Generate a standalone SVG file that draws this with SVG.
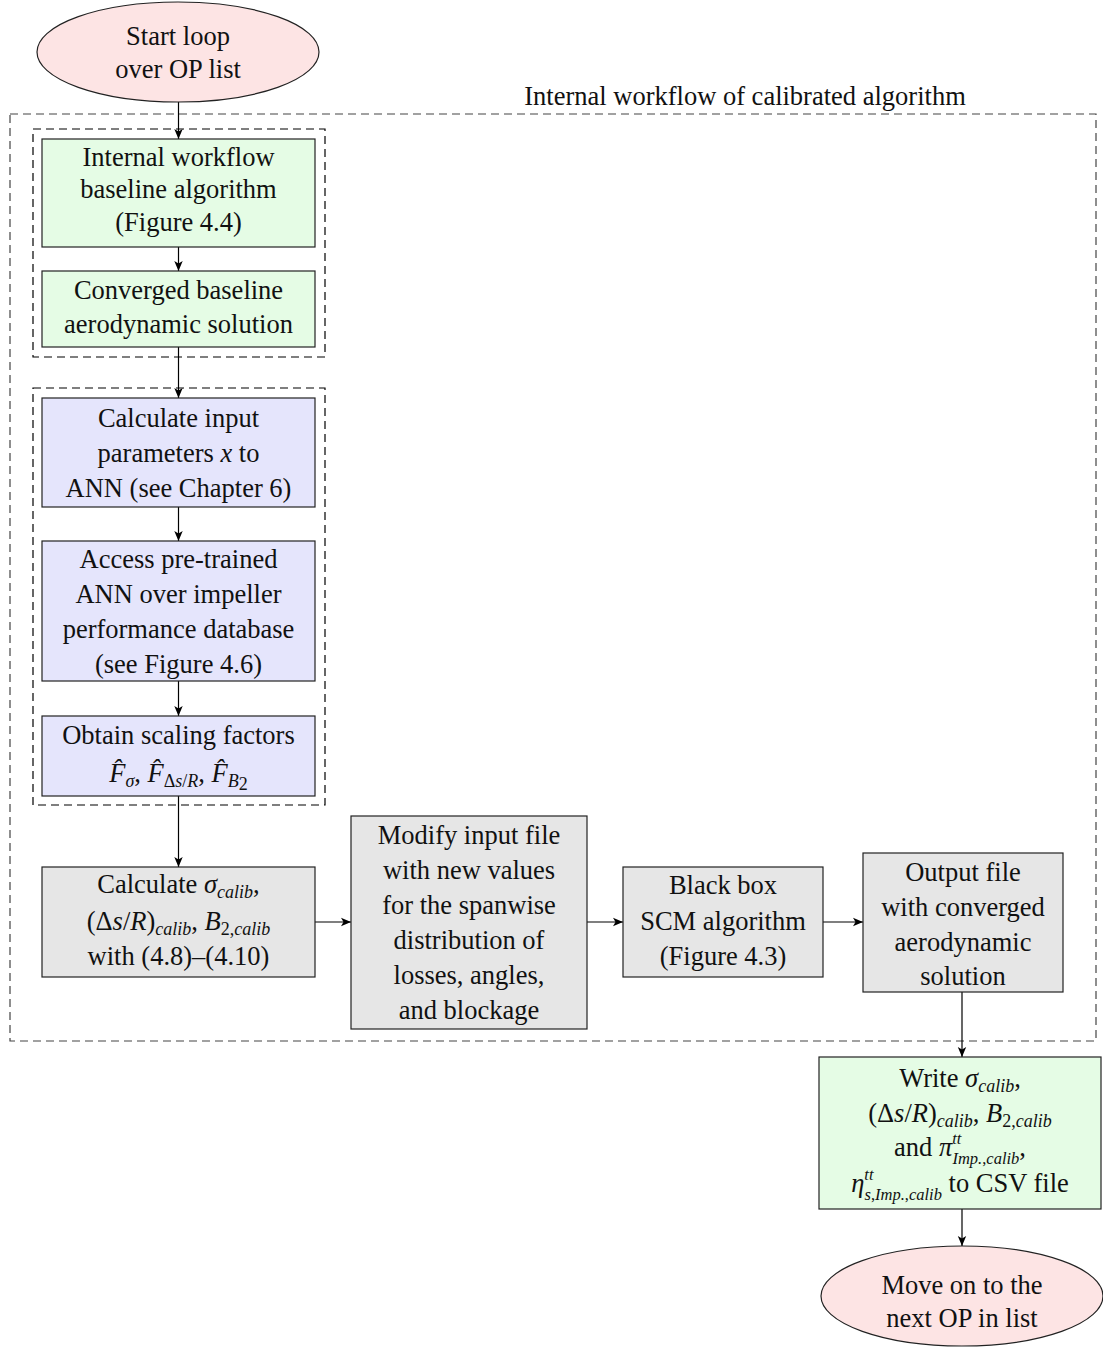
<svg xmlns="http://www.w3.org/2000/svg" width="1103" height="1348" viewBox="0 0 1103 1348">
  <defs>
    <marker id="arr" markerUnits="userSpaceOnUse" markerWidth="12" markerHeight="10" refX="10" refY="5" orient="auto">
      <path d="M0,0.8 L10,5 L0,9.2 L2.5,5 Z" fill="#000"/>
    </marker>
    <style>
      text { font-family: "Liberation Serif", "DejaVu Serif", serif; font-size: 26.5px; fill: #111; text-anchor: middle; }
      .i { font-style: italic; }
      .s { font-size: 18px; }
      .t { font-size: 16.5px; }
      .box { stroke: #222; stroke-width: 1.2; }
      .green { fill: #e5fce5; }
      .blue { fill: #e5e5fc; }
      .gray { fill: #e6e6e6; }
      .pink { fill: #fde4e4; stroke: #222; stroke-width: 1.2; }
      .frame { fill: none; stroke: #000; stroke-width: 1.2; stroke-dasharray: 8 5; }
      .outer { fill: none; stroke: #444; stroke-width: 1.2; stroke-dasharray: 8 5; }
      .edge { fill: none; stroke: #000; stroke-width: 1.2; marker-end: url(#arr); }
    </style>
  </defs>
  <rect width="1103" height="1348" fill="#fff"/>

  <!-- grouping frames -->
  <g id="frames">
    <rect class="outer" x="10" y="114" width="1086" height="927"/>
    <text x="745" y="105">Internal workflow of calibrated algorithm</text>
    <rect class="frame" x="33" y="129" width="292" height="228"/>
    <rect class="frame" x="33" y="388" width="292" height="417"/>
  </g>

  <!-- connectors -->
  <g id="connectors">
    <line class="edge" x1="178.5" y1="102" x2="178.5" y2="139"/>
    <line class="edge" x1="178.5" y1="247" x2="178.5" y2="271"/>
    <line class="edge" x1="178.5" y1="347" x2="178.5" y2="398"/>
    <line class="edge" x1="178.5" y1="507" x2="178.5" y2="541"/>
    <line class="edge" x1="178.5" y1="681" x2="178.5" y2="716"/>
    <line class="edge" x1="178.5" y1="796" x2="178.5" y2="867"/>
    <line class="edge" x1="315" y1="922" x2="351" y2="922"/>
    <line class="edge" x1="587" y1="922" x2="623" y2="922"/>
    <line class="edge" x1="823" y1="922" x2="863" y2="922"/>
    <line class="edge" x1="962" y1="992" x2="962" y2="1057"/>
    <line class="edge" x1="962" y1="1209" x2="962" y2="1246"/>
  </g>

  <g id="start">
    <ellipse class="pink" cx="178" cy="52" rx="141" ry="50"/>
    <text x="178" y="45">Start loop</text>
    <text x="178" y="78">over OP list</text>
  </g>

  <g id="baseline-workflow">
    <rect class="box green" x="42" y="139" width="273" height="108"/>
    <text x="178.5" y="166">Internal workflow</text>
    <text x="178.5" y="198">baseline algorithm</text>
    <text x="178.5" y="231">(Figure 4.4)</text>
  </g>

  <g id="baseline-solution">
    <rect class="box green" x="42" y="271" width="273" height="76"/>
    <text x="178.5" y="299">Converged baseline</text>
    <text x="178.5" y="333">aerodynamic solution</text>
  </g>

  <g id="input-params">
    <rect class="box blue" x="42" y="398" width="273" height="109"/>
    <text x="178.5" y="427">Calculate input</text>
    <text x="178.5" y="462">parameters <tspan class="i">x</tspan> to</text>
    <text x="178.5" y="497">ANN (see Chapter 6)</text>
  </g>

  <g id="ann">
    <rect class="box blue" x="42" y="541" width="273" height="140"/>
    <text x="178.5" y="568">Access pre-trained</text>
    <text x="178.5" y="603">ANN over impeller</text>
    <text x="178.5" y="638">performance database</text>
    <text x="178.5" y="673">(see Figure 4.6)</text>
  </g>

  <g id="scaling-factors">
    <rect class="box blue" x="42" y="716" width="273" height="80"/>
    <text x="178.5" y="744">Obtain scaling factors</text>
    <text x="178.5" y="782"><tspan class="i">F̂</tspan><tspan class="s i" dy="5">σ</tspan><tspan dy="-5">, </tspan><tspan class="i">F̂</tspan><tspan class="s" dy="5">Δ</tspan><tspan class="s i">s</tspan><tspan class="s">/</tspan><tspan class="s i">R</tspan><tspan dy="-5">, </tspan><tspan class="i">F̂</tspan><tspan class="s i" dy="5">B</tspan><tspan class="s" font-size="13" dy="3">2</tspan></text>
  </g>

  <g id="calculate-calib">
    <rect class="box gray" x="42" y="867" width="273" height="110"/>
    <text x="178.5" y="893">Calculate <tspan class="i">σ</tspan><tspan class="s i" dy="5">calib</tspan><tspan dy="-5">,</tspan></text>
    <text x="178.5" y="930">(Δ<tspan class="i">s</tspan>/<tspan class="i">R</tspan>)<tspan class="s i" dy="5">calib</tspan><tspan dy="-5">, </tspan><tspan class="i">B</tspan><tspan class="s" dy="5">2,</tspan><tspan class="s i">calib</tspan></text>
    <text x="178.5" y="965">with (4.8)–(4.10)</text>
  </g>

  <g id="modify-input">
    <rect class="box gray" x="351" y="816" width="236" height="213"/>
    <text x="469" y="844">Modify input file</text>
    <text x="469" y="879">with new values</text>
    <text x="469" y="914">for the spanwise</text>
    <text x="469" y="949">distribution of</text>
    <text x="469" y="984">losses, angles,</text>
    <text x="469" y="1019">and blockage</text>
  </g>

  <g id="scm">
    <rect class="box gray" x="623" y="867" width="200" height="110"/>
    <text x="723" y="894">Black box</text>
    <text x="723" y="930">SCM algorithm</text>
    <text x="723" y="965">(Figure 4.3)</text>
  </g>

  <g id="output-file">
    <rect class="box gray" x="863" y="853" width="200" height="139"/>
    <text x="963" y="881">Output file</text>
    <text x="963" y="916">with converged</text>
    <text x="963" y="951">aerodynamic</text>
    <text x="963" y="985">solution</text>
  </g>

  <g id="write-csv">
    <rect class="box green" x="819" y="1057" width="282" height="152"/>
    <text x="960" y="1087">Write <tspan class="i">σ</tspan><tspan class="s i" dy="5">calib</tspan><tspan dy="-5">,</tspan></text>
    <text x="960" y="1122">(Δ<tspan class="i">s</tspan>/<tspan class="i">R</tspan>)<tspan class="s i" dy="5">calib</tspan><tspan dy="-5">, </tspan><tspan class="i">B</tspan><tspan class="s" dy="5">2,</tspan><tspan class="s i">calib</tspan></text>
    <text x="960" y="1156">and <tspan class="i">π</tspan><tspan class="t i" dy="-12">tt</tspan><tspan class="t i" dx="-9" dy="20">Imp.</tspan><tspan class="t">,</tspan><tspan class="t i">calib</tspan><tspan dy="-8">,</tspan></text>
    <text x="960" y="1192"><tspan class="i">η</tspan><tspan class="t i" dy="-12">tt</tspan><tspan class="t i" dx="-9" dy="20">s</tspan><tspan class="t">,</tspan><tspan class="t i">Imp.</tspan><tspan class="t">,</tspan><tspan class="t i">calib</tspan><tspan dy="-8"> to CSV file</tspan></text>
  </g>

  <g id="next-op">
    <ellipse class="pink" cx="962" cy="1296" rx="141" ry="50"/>
    <text x="962" y="1294">Move on to the</text>
    <text x="962" y="1327">next OP in list</text>
  </g>
</svg>
